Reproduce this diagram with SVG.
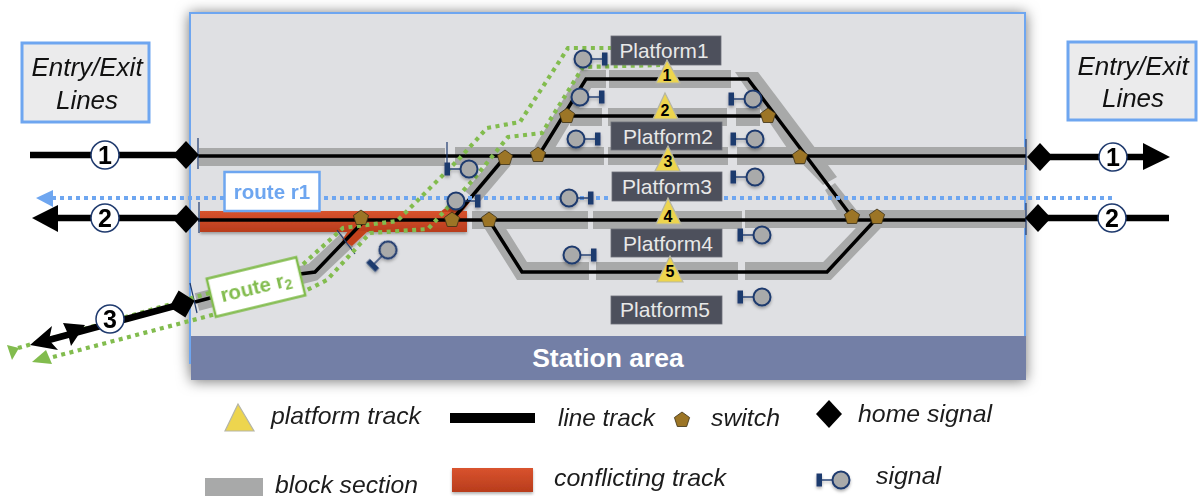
<svg xmlns="http://www.w3.org/2000/svg" width="1198" height="496" viewBox="0 0 1198 496">
<style>
text{font-family:"Liberation Sans",Arial,sans-serif}
.g{fill:none;stroke:#a8a9a9;stroke-width:18}
.gp{fill:#a8a9a9}
.t{fill:none;stroke:#000;stroke-width:3.5;stroke-linejoin:miter}
.o{fill:none;stroke:#000;stroke-width:6.5}
.k{fill:#000}
.tick{stroke:#1f3a6e;stroke-width:1.2}
.rb{fill:none;stroke:#6ea6f0;stroke-width:4;stroke-dasharray:4 4}
.rg{fill:none;stroke:#82bc4e;stroke-width:4.200;stroke-dasharray:4 4.500}
.pl{fill:#4d505c;stroke:#6b6e78;stroke-width:.8}
.pt{fill:#e8e8e8;font-size:21px;text-anchor:middle}
.tri{fill:#edd54e;stroke:#b5b5a5;stroke-width:1.2}
.tn{font-size:16px;font-weight:700;text-anchor:middle;fill:#000}
.num{fill:#fff;stroke:#1f3a6e;stroke-width:1.5}
.nt{font-size:25px;font-weight:700;text-anchor:middle;fill:#000}
.sw{fill:#9c7526;stroke:#3a2f14;stroke-width:.8}
.it{font-style:italic;fill:#1c1c1c;font-size:24px}
.ent{fill:#ebebec;stroke:#6ea6f0;stroke-width:3}
.et{font-style:italic;font-size:26px;text-anchor:middle;fill:#111}
.sc{fill:#a9aaaa;stroke:#1f3a6e;stroke-width:2}
.sb{fill:#1f3a6e}
.sl{stroke:#1f3a6e;stroke-width:1.4}
</style>
<defs>
<filter id="sh" x="-10%" y="-10%" width="120%" height="120%"><feDropShadow dx="0" dy="1" stdDeviation="7" flood-color="#000" flood-opacity=".55"/></filter>
<filter id="ss" x="-30%" y="-30%" width="160%" height="170%"><feDropShadow dx="0" dy="2" stdDeviation="1.5" flood-color="#000" flood-opacity=".3"/></filter>
<linearGradient id="red" x1="0" y1="0" x2="0" y2="1"><stop offset="0" stop-color="#d9532e"/><stop offset="1" stop-color="#b83c1c"/></linearGradient>
<g id="sig"><line class="sl" x1="8" y1="0" x2="20" y2="0"/><circle class="sc" r="8.500"/><rect class="sb" x="19" y="-6.500" width="5.500" height="13"/></g>
<polygon id="sw" class="sw" points="0,-8 7.600,-2.500 4.700,6.500 -4.700,6.500 -7.600,-2.500"/>
<polygon id="dia" class="k" points="-13,0 0,-14 13,0 0,14"/>
</defs>

<g id="station-panel">
<g filter="url(#sh)">
<rect x="190" y="13" width="835" height="350" fill="#dfe0e3" stroke="#6ea6f0" stroke-width="2"/>
<rect x="191" y="336" width="835" height="44" fill="#737fa6"/>
</g>
<text x="608" y="367" font-size="26.500" font-weight="700" fill="#fff" text-anchor="middle">Station area</text>
</g>

<g id="block-sections">
<path class="g" d="M199,157H445M455,156H604M608,156H728M737,156H1026"/>
<path class="g" d="M609,79H731M608,117H727M736,117H760M570,117H602"/>
<path class="g" d="M606,79H586L542,152"/>
<path class="g" d="M505,158L472,197"/>
<path class="g" d="M472,220H588M593,220H742M745,219H1026"/>
<path class="g" d="M490,220L522,271H589M596,271H738M745,271H827L877,219"/>
<path class="g" d="M197,302L313,272L347,240"/>
<polygon class="gp" points="735,72 758,72 837,177 823,185 787,148"/>
<polygon class="gp" points="825,190 835,183 858,212 838,212"/>
</g>

<g id="conflicting-track" filter="url(#ss)">
<rect x="200" y="211" width="267" height="21" fill="url(#red)"/>
<polygon points="440,212 452,203 470,202 462,212" fill="#c4431f"/>
<polygon points="348,231 368,231 352,246 342,240" fill="#c4431f"/>
</g>

<g id="connectors">
<path class="t" d="M198,156H1026"/>
<path class="t" d="M198,220H1026"/>
<path class="t" d="M852,217L748,79H586L539,155"/>
<path class="t" d="M567,116H768"/>
<path class="t" d="M505,157L452,220"/>
<path class="t" d="M489,220L522,272H827L877,218"/>
<path class="t" d="M195,302L300,274L315,272L363,222"/>
<path class="o" d="M30,155H186"/>
<path class="o" d="M50,218H186"/>
<path class="o" d="M1040,157H1146"/>
<path class="o" d="M1038,218H1169"/>
<polygon class="k" points="32,218 58,205 58,232"/>
<polygon class="k" points="1170,157 1143,143 1143,170"/>
<line class="tick" x1="198" y1="138" x2="198" y2="169"/>
<line class="tick" x1="199" y1="202" x2="199" y2="233"/>
<line class="tick" x1="447" y1="142" x2="447" y2="170"/>
<line class="tick" x1="190" y1="283" x2="197" y2="313"/>
<line class="tick" x1="337" y1="230" x2="355" y2="254"/>
<line class="tick" x1="1026" y1="139" x2="1026" y2="170"/>
<line class="tick" x1="1026" y1="203" x2="1026" y2="235"/>
<path class="rb" d="M52,198H1115"/>
<polygon points="36,198 53,190 53,207" fill="#6ea6f0"/>
<path class="rg" d="M18,348L300,267L343,228L397,221L460,158L487,128L520,122L568,48H612"/>
<path class="rg" d="M53,357L307,290L327,280L370,233L428,229L473,180L508,137L542,133L583,67L660,65"/>
<polygon points="7,345 19,348 12,360" fill="#82bc4e"/>
<polygon points="32,362 46,350 52,364" fill="#82bc4e"/>
<path class="o" d="M45,341L182,304"/>
<polygon class="k" points="30,345 52,326 49,340 58,350"/>
<polygon class="k" points="85,325 63,323 68,334 71,346"/>
</g>

<g id="platform1"><rect class="pl" x="611" y="36" width="110" height="29"/><text class="pt" x="664" y="58" textLength="89" lengthAdjust="spacingAndGlyphs">Platform1</text></g>
<g id="platform2"><rect class="pl" x="611" y="122" width="111" height="28"/><text class="pt" x="668" y="144" textLength="90" lengthAdjust="spacingAndGlyphs">Platform2</text></g>
<g id="platform3"><rect class="pl" x="612" y="172" width="110" height="29"/><text class="pt" x="667" y="194" textLength="90" lengthAdjust="spacingAndGlyphs">Platform3</text></g>
<g id="platform4"><rect class="pl" x="611" y="229" width="111" height="28"/><text class="pt" x="668" y="251" textLength="90" lengthAdjust="spacingAndGlyphs">Platform4</text></g>
<g id="platform5"><rect class="pl" x="611" y="296" width="111" height="28"/><text class="pt" x="665" y="317" textLength="90" lengthAdjust="spacingAndGlyphs">Platform5</text></g>

<g id="track1"><polygon class="tri" points="667,60 680,83 656,83"/><text class="tn" x="667" y="81">1</text></g>
<g id="track2"><polygon class="tri" points="665,93 678,119 653,119"/><text class="tn" x="665" y="116">2</text></g>
<g id="track3"><polygon class="tri" points="668,146 680,171 655,171"/><text class="tn" x="668" y="167">3</text></g>
<g id="track4"><polygon class="tri" points="668,198 681,224 656,224"/><text class="tn" x="668" y="222">4</text></g>
<g id="track5"><polygon class="tri" points="670,256 683,282 657,282"/><text class="tn" x="670" y="277">5</text></g>

<g id="switches">
<use href="#sw" x="361" y="218"/><use href="#sw" x="452" y="220"/><use href="#sw" x="489" y="220"/>
<use href="#sw" x="505" y="158"/><use href="#sw" x="538" y="155"/><use href="#sw" x="567" y="116"/>
<use href="#sw" x="768" y="116"/><use href="#sw" x="800" y="157"/><use href="#sw" x="852" y="217"/><use href="#sw" x="877" y="217"/>
</g>

<g id="signals" filter="url(#ss)">
<use href="#sig" transform="translate(469,169) scale(-1,1)"/>
<use href="#sig" transform="translate(456,201)"/>
<use href="#sig" transform="translate(388,250) rotate(135)"/>
<use href="#sig" transform="translate(583,59)"/>
<use href="#sig" transform="translate(580,97)"/>
<use href="#sig" transform="translate(576,139)"/>
<use href="#sig" transform="translate(569,198)"/>
<use href="#sig" transform="translate(572,255)"/>
<use href="#sig" transform="translate(753,99) scale(-1,1)"/>
<use href="#sig" transform="translate(755,139) scale(-1,1)"/>
<use href="#sig" transform="translate(755,177) scale(-1,1)"/>
<use href="#sig" transform="translate(762,235) scale(-1,1)"/>
<use href="#sig" transform="translate(762,297) scale(-1,1)"/>
</g>

<g id="home-signals">
<use href="#dia" x="186" y="155"/><use href="#dia" x="186" y="219"/>
<use href="#dia" transform="translate(182,304) rotate(-14)"/>
<use href="#dia" x="1040" y="157"/><use href="#dia" x="1038" y="218"/>
</g>

<g id="line-1-left"><circle class="num" cx="105" cy="155" r="14"/><text class="nt" x="105" y="164">1</text></g>
<g id="line-2-left"><circle class="num" cx="105" cy="218" r="14"/><text class="nt" x="105" y="227">2</text></g>
<g id="line-3-left"><circle class="num" cx="110" cy="319" r="14"/><text class="nt" x="110" y="328">3</text></g>
<g id="line-1-right"><circle class="num" cx="1113" cy="157" r="14"/><text class="nt" x="1113" y="166">1</text></g>
<g id="line-2-right"><circle class="num" cx="1112" cy="218" r="14"/><text class="nt" x="1112" y="227">2</text></g>

<g id="route-r1"><rect x="224.500" y="172" width="95" height="39" fill="#fff" stroke="#6ea6f0" stroke-width="2.500"/><text x="272" y="199" font-size="20.500" font-weight="700" fill="#6ea6f0" text-anchor="middle">route r1</text></g>
<g id="route-r2" transform="translate(256,287) rotate(-13.500)"><rect x="-46" y="-19.500" width="92" height="39" fill="#fff" stroke="#82bc4e" stroke-width="2.500"/><text x="0" y="7" font-size="20.500" font-weight="700" fill="#82bc4e" text-anchor="middle">route r<tspan font-size="14" dy="3">2</tspan></text></g>

<g id="entry-left"><rect class="ent" x="22" y="43" width="127" height="79"/><text class="et" x="87" y="76">Entry/Exit</text><text class="et" x="87" y="109">Lines</text></g>
<g id="entry-right"><rect class="ent" x="1068" y="42" width="128" height="78"/><text class="et" x="1133" y="75">Entry/Exit</text><text class="et" x="1133" y="107">Lines</text></g>

<g id="legend">
<polygon class="tri" points="238,404 254,431 225,431"/><text class="it" x="271" y="424" textLength="150" lengthAdjust="spacingAndGlyphs">platform track</text>
<rect x="450" y="413" width="85" height="10" fill="#000"/><text class="it" x="558" y="426" textLength="97" lengthAdjust="spacingAndGlyphs">line track</text>
<use href="#sw" x="682" y="420"/><text class="it" x="711" y="426" textLength="69" lengthAdjust="spacingAndGlyphs">switch</text>
<use href="#dia" x="829" y="414"/><text class="it" x="858" y="422" textLength="134" lengthAdjust="spacingAndGlyphs">home signal</text>
<rect x="205" y="478" width="58" height="18" fill="#a8a9a9"/><text class="it" x="275" y="493" textLength="143" lengthAdjust="spacingAndGlyphs">block section</text>
<rect x="452" y="468" width="81" height="24" fill="url(#red)" filter="url(#ss)"/><text class="it" x="554" y="486" textLength="172" lengthAdjust="spacingAndGlyphs">conflicting track</text>
<use href="#sig" transform="translate(841,480) scale(-1,1)" filter="url(#ss)"/><text class="it" x="876" y="484" textLength="65" lengthAdjust="spacingAndGlyphs">signal</text>
</g>
</svg>
